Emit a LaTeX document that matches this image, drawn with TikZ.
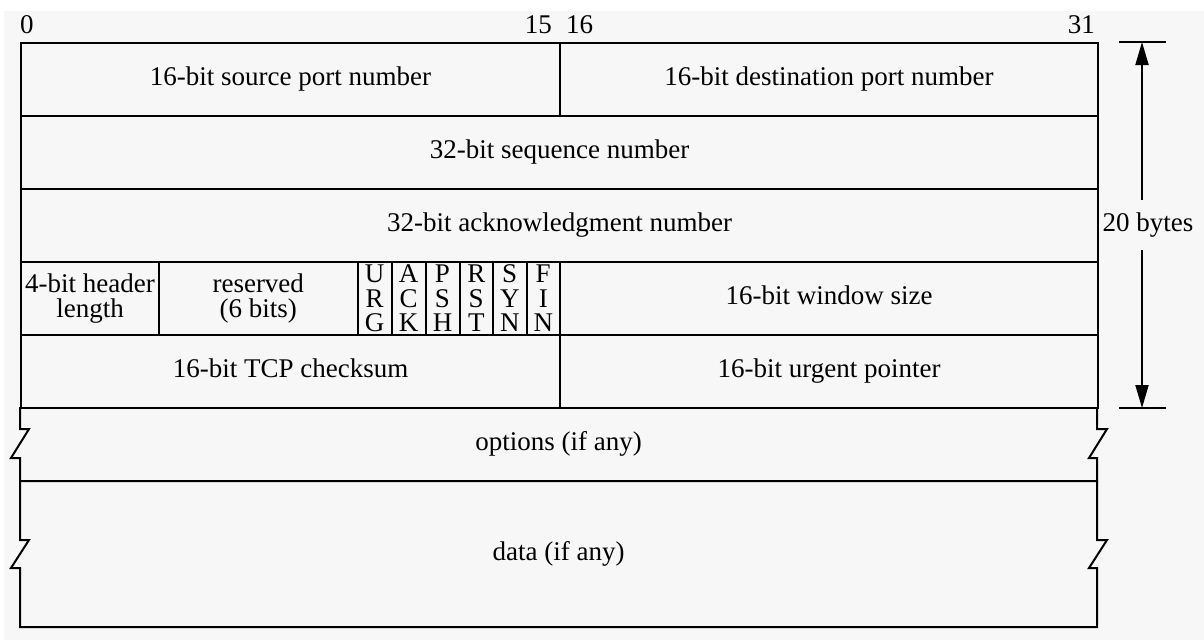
\documentclass[tikz,border=0pt]{standalone}
\usepackage{fontspec}
\setmainfont{Liberation Serif}
\usetikzlibrary{arrows.meta}
\definecolor{bggray}{HTML}{F7F7F7}
\begin{document}
\begin{tikzpicture}[x=1pt,y=-1pt,
  txt/.style={inner sep=0pt, align=center, font=\fontsize{27}{25.5}\selectfont},
  one/.style={text height=18.5pt, text depth=6pt},
  fld/.style={txt, draw, line width=2pt, minimum width=#1, minimum height=73pt, anchor=north west},
  flag/.style={fld=#1, font=\fontsize{27}{24.5}\selectfont},
  frame/.style={line width=2pt, line join=miter},
  arr/.style={line width=2pt, -{Triangle[length=23pt,width=13pt]}},
  tick/.style={line width=2pt}]
\useasboundingbox (0,0) rectangle (1204,640);
\fill[white] (0,0) rectangle (1204,640);
\fill[bggray] (4,11) rectangle (1204,640);
% bit numbers
\node[txt, anchor=base west] (b0) at (20,33) {0};
\node[txt, anchor=base east] (b15) at (552,33) {15};
\node[txt, anchor=base west] (b16) at (566,33) {16};
\node[txt, anchor=base east] (b31) at (1095,33) {31};
% row 1
\node[fld=539pt, one] (src) at (20,42) {16-bit source port number};
\node[fld=538pt, one] (dst) at (559,42) {16-bit destination port number};
% row 2
\node[fld=1077pt, one] (seq) at (20,115) {32-bit sequence number};
% row 3
\node[fld=1077pt, one] (ack) at (20,188) {32-bit acknowledgment number};
% row 4
\node[fld=138pt] (hlen) at (20,261) {4-bit header\\length};
\node[fld=198.5pt] (res) at (158,261) {reserved\\(6 bits)};
\node[flag=34pt] (urg) at (356.5,261) {U\\R\\G};
\node[flag=34pt] (ackf) at (390.5,261) {A\\C\\K};
\node[flag=34pt] (psh) at (424.5,261) {P\\S\\H};
\node[flag=33.5pt] (rst) at (458.5,261) {R\\S\\T};
\node[flag=33.5pt] (syn) at (492,261) {S\\Y\\N};
\node[flag=33.5pt] (fin) at (525.5,261) {F\\I\\N};
\node[fld=538pt, one] (win) at (559,261) {16-bit window size};
% row 5
\node[fld=539pt, one] (csum) at (20,334) {16-bit TCP checksum};
\node[fld=538pt, one] (urgp) at (559,334) {16-bit urgent pointer};
% options row
\draw[frame] (20,407) -- (20,429) -- (29,429) -- (11,458) -- (20,458) -- (20,481) -- (1097,481)
  -- (1097,458) -- (1089,458) -- (1107,429) -- (1097,429) -- (1097,407);
\node[txt, one] (opt) at (558.5,444) {options (if any)};
% data row
\draw[frame] (20,481) -- (20,540) -- (29,540) -- (11,568) -- (20,568) -- (20,627) -- (1097,627)
  -- (1097,568) -- (1089,568) -- (1107,540) -- (1097,540) -- (1097,481);
\node[txt, one] (data) at (558.5,554) {data (if any)};
% 20 bytes dimension
\coordinate (top) at (1142,42);
\coordinate (bot) at (1142,408);
\coordinate (topl) at (1119,42);
\coordinate (topr) at (1166,42);
\coordinate (botl) at (1119,408);
\coordinate (botr) at (1166,408);
\draw[tick] (topl) -- (topr);
\draw[tick] (botl) -- (botr);
\node[txt, minimum height=50pt] (len) at (1148,225) {20 bytes};
\draw[arr] (top |- len.north) -- (top);
\draw[arr] (bot |- len.south) -- (bot);
\end{tikzpicture}
\end{document}
